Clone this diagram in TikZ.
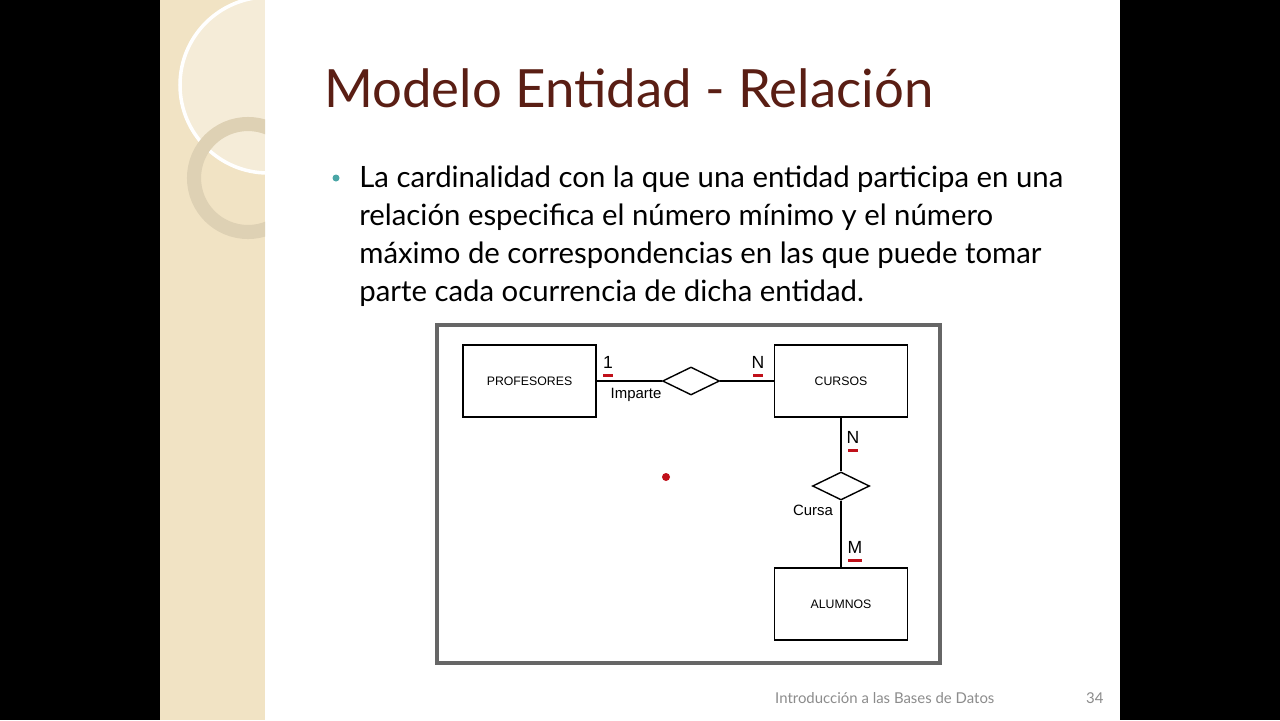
\documentclass[tikz,border=0pt]{standalone}
\usepackage{fontspec}
\setmainfont{Lato}
\newfontfamily\arialfont{Liberation Sans}
\usetikzlibrary{shapes.geometric}
\definecolor{titlered}{HTML}{5A1E14}
\definecolor{bandbeige}{HTML}{F1E3C4}
\definecolor{bullteal}{HTML}{4AA6A6}
\definecolor{cardred}{HTML}{C0101A}
\tikzset{
  entity/.style={draw,line width=0.9pt,minimum width=2.66cm,minimum height=1.44cm,font=\arialfont\fontsize{7}{8}\selectfont},
  relation/.style={draw,diamond,aspect=2,inner sep=0pt,minimum width=1.14cm,minimum height=0.56cm,line width=0.8pt},
  card/.style={font=\arialfont\fontsize{10}{11}\selectfont},
  uline/.style={cardred,line width=1.2pt},
  smalllabel/.style={font=\arialfont\fontsize{8.5}{9}\selectfont}
}
\begin{document}
\begin{tikzpicture}[x=0.02cm,y=-0.02cm]
  \useasboundingbox (0,0) rectangle (1280,720);
  \fill[black] (0,0) rectangle (1280,720);
  \fill[white] (265,0) rectangle (1120,720);
  \fill[bandbeige] (160,0) rectangle (265,720);
  % decorative rings on the band
  \begin{scope}
    \clip (160,0) rectangle (265,720);
    \fill[white,opacity=0.35] (268,85) circle (88);
    \draw[white,line width=2pt] (268,85) circle (88);
    \draw[black!8!bandbeige,line width=8pt] (248,178) circle (54);
  \end{scope}
  % title and text
  \node[anchor=base west,text=titlered,font=\fontsize{30}{34}\selectfont] (title) at (318,107) {Modelo Entidad - Relación};
  \fill[bullteal] (336,178) circle (3.5);
  \node[anchor=north west,align=left,font=\fontsize{16.7}{21.5}\selectfont,inner sep=0pt] (body) at (359,166)
    {La cardinalidad con la que una entidad participa en una\\relación especifica el número mínimo y el número\\máximo de correspondencias en las que puede tomar\\parte cada ocurrencia de dicha entidad.};
  % diagram frame
  \node[draw=black!60,line width=2pt,minimum width=10.06cm,minimum height=6.76cm] (frame) at (688.5,494) {};
  \node[entity] (prof) at (529.5,381) {PROFESORES};
  \node[entity] (cursos) at (841,381) {CURSOS};
  \node[entity] (alum) at (841,604) {ALUMNOS};
  \node[relation] (imparte) at (691,381) {};
  \node[relation] (cursa) at (841,486) {};
  \draw[line width=0.8pt] (prof) -- (imparte) -- (cursos);
  \draw[line width=0.8pt] (cursos) -- (cursa) -- (alum);
  \node[smalllabel] (limp) at (636,395) {Imparte};
  \node[smalllabel] (lcur) at (813,510) {Cursa};
  \node[card] (c1) at (608,362) {1};
  \node[card] (c2) at (758,362) {N};
  \node[card] (c3) at (853,437) {N};
  \node[card] (c4) at (855,547) {M};
  \foreach \c/\w in {c1/5,c2/5,c3/5,c4/7}
    \draw[uline] ([xshift=-\w*0.02cm,yshift=-0.27cm]\c.center) -- ([xshift=\w*0.02cm,yshift=-0.27cm]\c.center);
  \fill[cardred] (666,477) circle (4);
  % footer
  \node[anchor=base west,text=black!45,font=\fontsize{8.5}{10}\selectfont] (foot) at (769,703) {Introducción a las Bases de Datos};
  \node[anchor=base west,text=black!45,font=\fontsize{8.5}{10}\selectfont] (page) at (1080,703) {34};
\end{tikzpicture}
\end{document}
